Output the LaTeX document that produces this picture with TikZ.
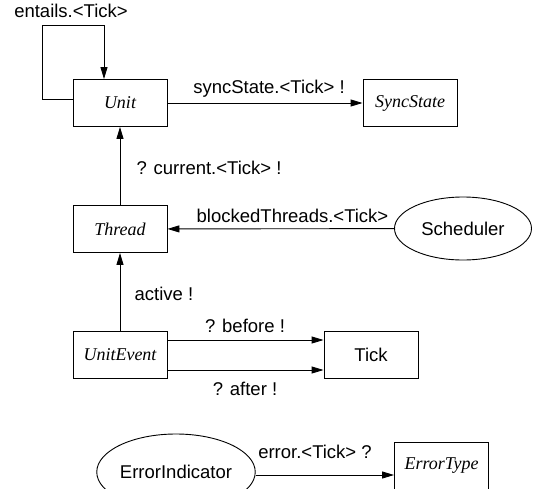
\documentclass[tikz,border=0pt]{standalone}
\usepackage{fontspec}
\setmainfont{Liberation Serif}
\setsansfont{Liberation Sans}
\usetikzlibrary{arrows.meta,shapes.geometric}
\tikzset{
  cls/.style={draw,line width=0.9pt,rectangle,inner sep=0pt,minimum width=94pt,minimum height=47pt,font=\itshape\fontsize{18}{20}\selectfont},
  tickbox/.style={draw,line width=0.9pt,rectangle,inner sep=0pt,minimum width=94pt,minimum height=47pt,font=\sffamily\fontsize{18.5}{20}\selectfont},
  actor/.style={draw,line width=0.9pt,ellipse,inner sep=0pt,font=\sffamily\fontsize{18.5}{20}\selectfont},
  lbl/.style={inner sep=0pt,font=\sffamily\fontsize{18.5}{20}\selectfont},
  arr/.style={line width=0.9pt,-{Triangle[length=12pt,width=7pt]}}
}
\begin{document}
\begin{tikzpicture}[x=1pt,y=-1pt]
\useasboundingbox (0,0) rectangle (533,488);
\node[cls] (unit) at (120,103) {Unit};
\node[cls] (sync) at (410,103) {SyncState};
\node[cls] (thread) at (120,229) {Thread};
\node[actor,minimum width=137pt,minimum height=63pt] (sched) at (463,228.5) {Scheduler};
\node[cls] (uevent) at (120,355) {UnitEvent};
\node[tickbox] (tick) at (371,355) {Tick};
\node[actor,minimum width=146pt,minimum height=76pt] (errind) at (176,472) {ErrorIndicator};
\node[cls] (errtype) at (441.5,465.5) {ErrorType};
\coordinate (loopa) at (42,25);
\coordinate (errout) at ([yshift=-3pt]errind.east);

\draw[arr] ([yshift=4pt]unit.west) -| (loopa) -| ([xshift=-16pt]unit.north);
\node[lbl] (lentails) at (71,11) {entails.<Tick>};

\draw[arr] (unit) -- (sync);
\node[lbl] (lsync) at (269,89) {syncState.<Tick> !};

\draw[arr] (thread) -- (unit);
\node[lbl] (lcurrent) at (209,168) {? current.<Tick> !};

\draw[arr] (sched) -- (thread);
\node[lbl] (lblocked) at (292.5,216) {blockedThreads.<Tick>};

\draw[arr] (uevent) -- (thread);
\node[lbl] (lactive) at (164,294) {active !};

\draw[arr] ([yshift=15pt]uevent.east) -- ([yshift=15pt]tick.west);
\node[lbl] (lbefore) at (245,326) {? before !};
\draw[arr] ([yshift=-15pt]uevent.east) -- ([yshift=-15pt]tick.west);
\node[lbl] (lafter) at (245,389) {? after !};

\draw[arr] (errout) -- (errtype.west |- errout);
\node[lbl] (lerror) at (315,452) {error.<Tick> ?};
\end{tikzpicture}
\end{document}
